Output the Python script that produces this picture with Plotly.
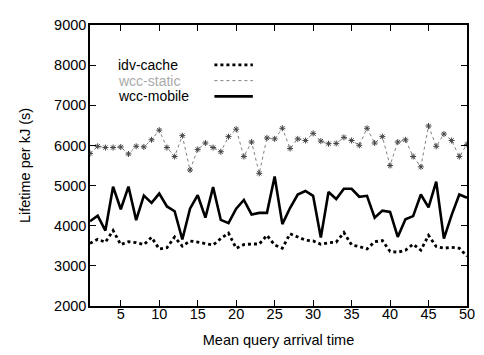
import plotly.graph_objects as go

x_vals = list(range(1, 51))

idv_cache = [3560, 3660, 3590, 3880, 3530, 3600, 3580, 3530, 3710, 3420,
             3450, 3720, 3490, 3620, 3590, 3560, 3520, 3680, 3815, 3440,
             3530, 3545, 3545, 3760, 3520, 3440, 3800, 3720, 3640, 3620,
             3540, 3575, 3590, 3830, 3520, 3480, 3420, 3600, 3630, 3360,
             3340, 3390, 3540, 3390, 3760, 3480, 3440, 3460, 3440, 3240]

wcc_static = [5800, 5978, 5947, 5947, 5960, 5787, 5978, 5963, 6140, 6380,
              5947, 5724, 6243, 5387, 5900, 6060, 5947, 5843, 6219, 6404,
              5724, 6084, 5305, 6187, 6163, 6428, 5923, 6163, 6123, 6300,
              6107, 6043, 6050, 6200, 6123, 6003, 6428, 6060, 6219, 5499,
              6084, 6140, 5724, 5467, 6484, 5978, 6284, 6123, 5724, 6027]

wcc_mobile = [4110, 4250, 3880, 4970, 4410, 4975, 4140, 4750, 4570, 4800,
              4480, 4360, 3656, 4425, 4760, 4200, 4962, 4144, 4063, 4425,
              4642, 4281, 4320, 4320, 5226, 4040, 4440, 4777, 4865, 4745,
              3704, 4841, 4664, 4921, 4921, 4721, 4745, 4200, 4376, 4345,
              3720, 4160, 4240, 4777, 4456, 5098, 3680, 4264, 4777, 4697]

series_names = ["idv-cache", "wcc-static", "wcc-mobile"]
x_ticks = [5, 10, 15, 20, 25, 30, 35, 40, 45, 50]
y_ticks = [2000, 3000, 4000, 5000, 6000, 7000, 8000, 9000]

FONT = "Liberation Sans, Arial, Helvetica, sans-serif"
FS = 14.5

fig = go.Figure()
fig.add_trace(go.Scatter(x=x_vals, y=wcc_static, mode="lines+markers", name=series_names[1],
                         line=dict(color="#808080", width=1, dash="dot"),
                         marker=dict(symbol="asterisk-open", size=5, color="#444444",
                                     line=dict(width=1, color="#444444"))))
fig.add_trace(go.Scatter(x=x_vals, y=wcc_mobile, mode="lines", name=series_names[2],
                         line=dict(color="black", width=2.6)))
fig.add_trace(go.Scatter(x=x_vals, y=idv_cache, mode="lines", name=series_names[0],
                         line=dict(color="black", width=2.8, dash="dot")))

# custom legend (text on the left, line sample on the right)
rows = [(0.858, series_names[0], "black", 2.8, "dot", "black"),
        (0.802, series_names[1], "#808080", 1, "dot", "#aaaaaa"),
        (0.746, series_names[2], "black", 2.6, "solid", "black")]
for yp, name, col, w, dash, tcol in rows:
    fig.add_annotation(x=0.071, y=yp, xref="paper", yref="paper", text=name,
                       showarrow=False, xanchor="left", yanchor="middle", borderpad=0,
                       font=dict(family=FONT, size=14, color=tcol))
    fig.add_shape(type="line", xref="paper", yref="paper", x0=0.33, x1=0.432,
                  y0=yp, y1=yp, line=dict(color=col, width=w, dash=dash))

axis_common = dict(showline=True, linecolor="black", linewidth=1.5, mirror="ticks",
                   ticks="inside", ticklen=6, tickwidth=1.2, tickcolor="black",
                   showgrid=False, zeroline=False,
                   tickfont=dict(family=FONT, size=FS, color="black"))

fig.update_xaxes(range=[1, 50], tickvals=x_ticks, ticklabelstandoff=-6,
                 title=dict(text="Mean query arrival time", font=dict(family=FONT, size=FS, color="black"),
                            standoff=14),
                 **axis_common)
fig.update_yaxes(range=[2000, 9000], tickvals=y_ticks, ticklabelstandoff=-1,
                 title=dict(text="Lifetime per kJ (s)", font=dict(family=FONT, size=FS, color="black"),
                            standoff=20),
                 **axis_common)

# page body has an 8px margin; size the figure so the plot lands where the reference has it
fig.update_layout(width=476, height=347, margin=dict(l=82, r=11, t=9, b=47),
                  paper_bgcolor="white", plot_bgcolor="white", showlegend=False,
                  font=dict(family=FONT, size=FS, color="black"))

fig.write_html("out.html")
